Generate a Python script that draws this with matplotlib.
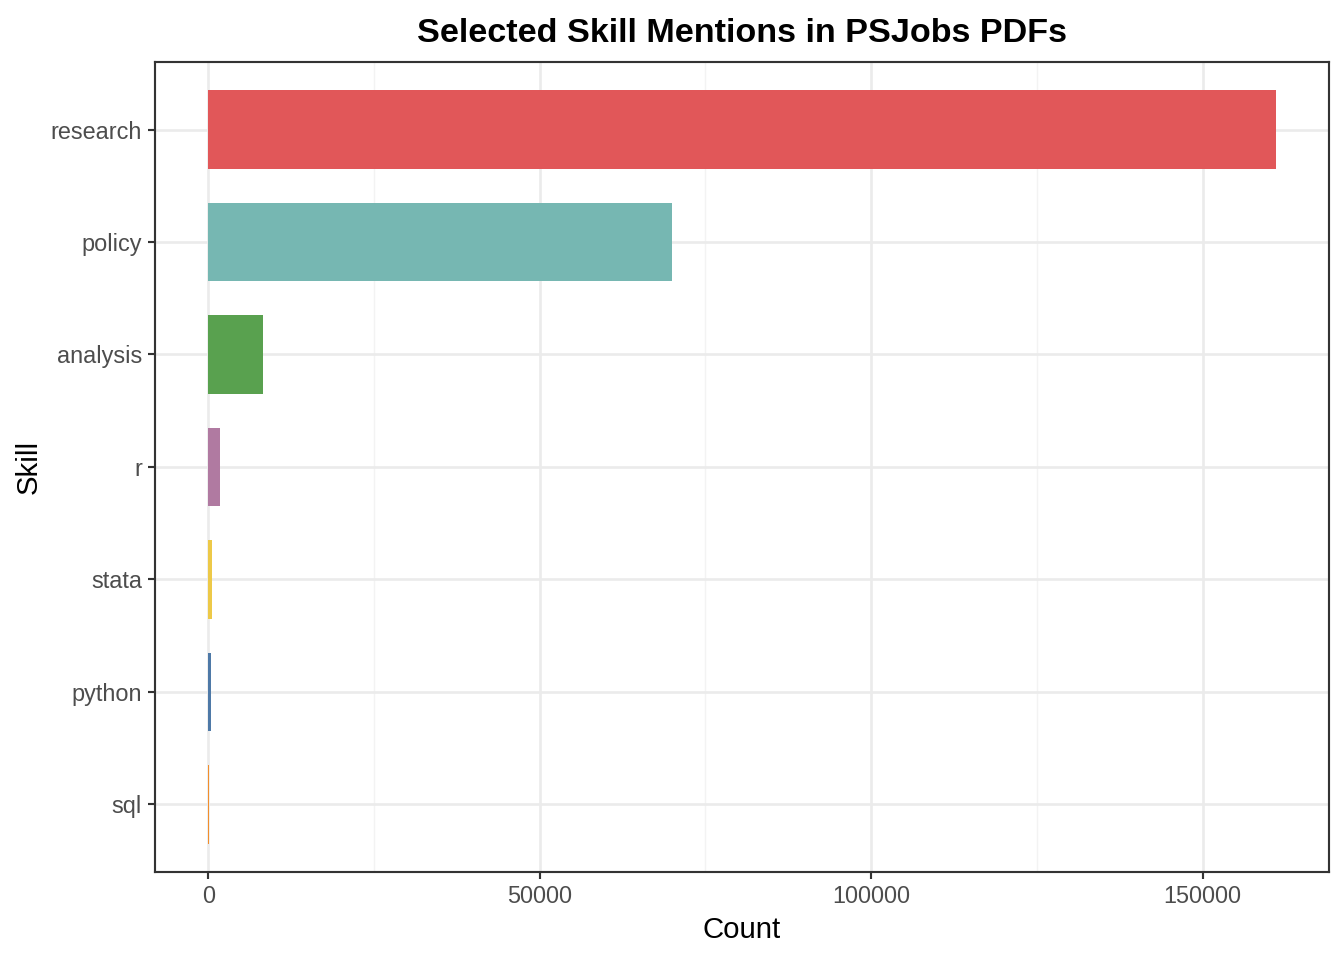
import numpy as np
import matplotlib
matplotlib.use("Agg")
import matplotlib.pyplot as plt
from matplotlib.ticker import MultipleLocator

plt.rcParams['font.family'] = ['Liberation Sans', 'DejaVu Sans']

# skills, bottom to top as drawn
skills = ["sql", "python", "stata", "r", "analysis", "policy", "research"]
counts = [150, 450, 600, 1800, 8300, 70000, 161000]
colors = ["#F28E2B", "#4E79A7", "#EDC948", "#B07AA1",
          "#59A14F", "#76B7B2", "#E15759"]

fig = plt.figure(figsize=(7, 5), dpi=192)
ax = fig.add_axes([0.1153, 0.0917, 0.8735, 0.8437])

ypos = np.arange(1, len(skills) + 1)
ax.barh(ypos, counts, height=0.7, color=colors, zorder=3)

xmax = max(counts)
ax.set_xlim(-0.05 * xmax, 1.05 * xmax)
ax.set_ylim(0.4, len(skills) + 0.6)

ax.set_yticks(ypos)
ax.set_yticklabels(skills)
ax.xaxis.set_major_locator(MultipleLocator(50000))
ax.xaxis.set_minor_locator(MultipleLocator(25000))
ax.xaxis.set_major_formatter(plt.FuncFormatter(lambda v, p: f"{int(v)}"))

ax.grid(which="major", color="#EBEBEB", linewidth=1.0, zorder=0)
ax.grid(which="minor", axis="x", color="#F3F3F3", linewidth=0.5, zorder=0)
ax.set_axisbelow(True)

for s in ax.spines.values():
    s.set_color("#333333")
    s.set_linewidth(0.8)

ax.tick_params(axis="both", which="major", length=2.7, width=0.8,
               color="#333333", labelcolor="#4D4D4D", labelsize=8.8, pad=2.2)
ax.tick_params(axis="x", which="minor", length=0)

ax.set_xlabel("Count", fontsize=11, color="black", labelpad=3)
ax.set_ylabel("Skill", fontsize=11, color="black", labelpad=3)
ax.set_title("Selected Skill Mentions in PSJobs PDFs", fontsize=12.8,
             fontweight="bold", pad=7.5)

fig.savefig("out.png", dpi=192)
